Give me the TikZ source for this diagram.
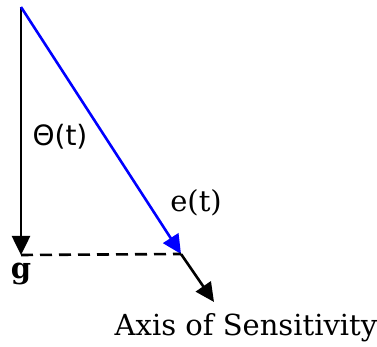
\documentclass[tikz,border=0pt]{standalone}
\usepackage{fontspec}
\newfontfamily\sansfam{DejaVu Sans}
\setmainfont{DejaVu Serif}
\usetikzlibrary{arrows.meta}
\begin{document}
\begin{tikzpicture}[x=1pt,y=1pt,
  tip/.style={-{Triangle[length=19pt,width=18pt]}},
  ln/.style={line width=2.6pt},
  lbl/.style={inner sep=0pt}]
\useasboundingbox (0,0) rectangle (377,347);
\coordinate (O) at (21,340);
\coordinate (G) at (21,92);
\coordinate (E) at (181,93);
\coordinate (A) at (214,45);
\draw[ln,tip] (O) -- (G);
\draw[ln,blue,tip] (O) -- (E);
\draw[ln,tip] (E) -- (A);
\draw[ln,dash pattern=on 12pt off 7pt] (G) -- (E);
\node[lbl] (theta) at (60,210) {\fontsize{28}{30}\selectfont\sansfam Θ(t)};
\node[lbl] (et) at (196,144) {\fontsize{29}{31}\selectfont e(t)};
\node[lbl] (g) at (21,73) {\fontsize{29}{31}\selectfont\bfseries g};
\node[lbl] (axis) at (246,19) {\fontsize{29}{31}\selectfont Axis of Sensitivity};
\end{tikzpicture}
\end{document}
